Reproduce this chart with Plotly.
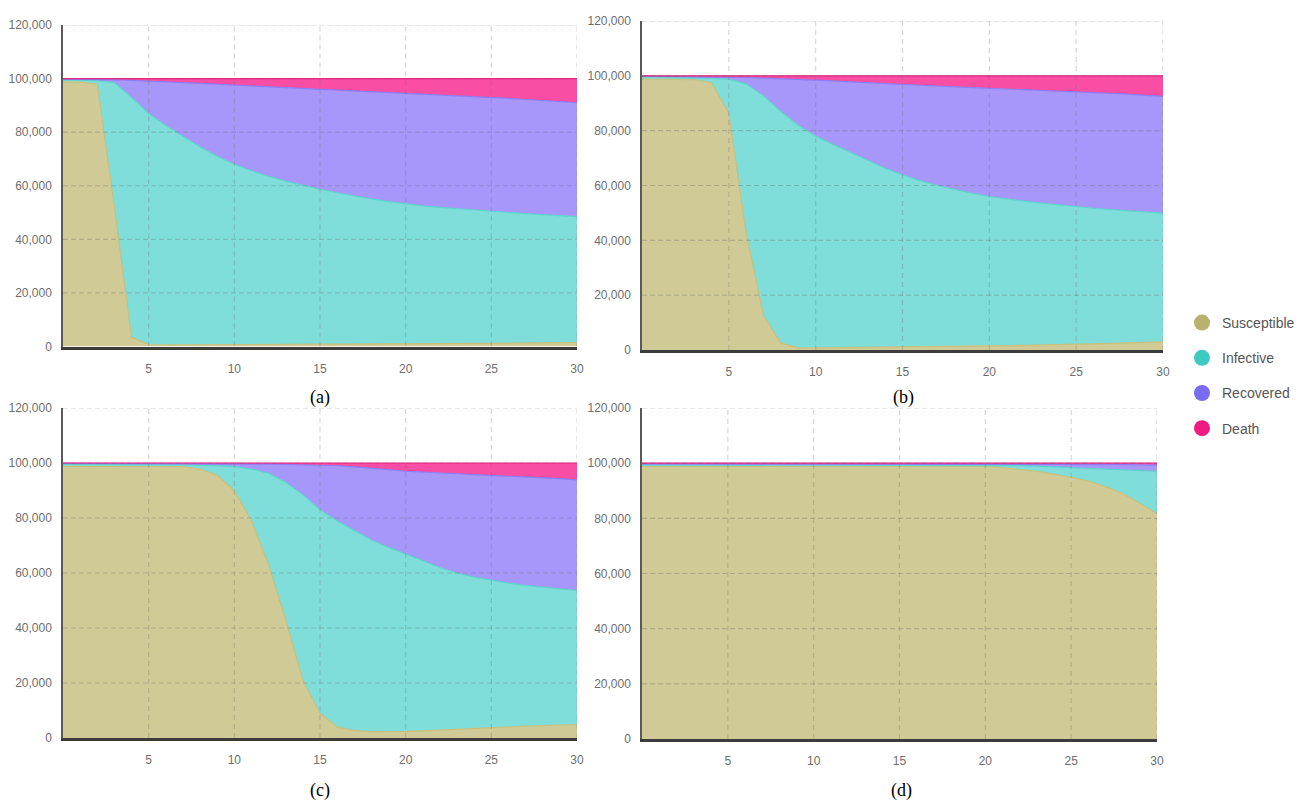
import plotly.graph_objects as go

# ---------------- data ----------------
DAYS = list(range(31))
SERIES = ["Susceptible", "Infective", "Recovered", "Death"]
X_TICKS = [5, 10, 15, 20, 25, 30]
Y_TICKS = [0, 20000, 40000, 60000, 80000, 100000, 120000]
PANEL_LABELS = ["(a)", "(b)", "(c)", "(d)"]

A_SUSCEPTIBLE = [98800, 98700, 98000, 52000, 3500, 700, 600, 600, 600, 650, 700,
                 700, 750, 800, 800, 850, 900, 900, 950, 1000, 1000,
                 1050, 1100, 1100, 1150, 1200, 1250, 1300, 1350, 1400, 1500]
A_INFECTIVE = [700, 700, 1200, 46500, 89500, 86300, 81900, 77900, 73900, 70350, 67300,
               64900, 62750, 60900, 59300, 57850, 56500, 55300, 54150, 53100, 52200,
               51450, 50800, 50300, 49750, 49200, 48750, 48300, 47850, 47400, 47000]
A_RECOVERED = [300, 350, 450, 1000, 6300, 12100, 16300, 20000, 23700, 26900, 29600,
               31700, 33500, 35000, 36300, 37400, 38400, 39300, 40100, 40800, 41400,
               41800, 42100, 42300, 42500, 42600, 42600, 42600, 42600, 42600, 42500]
A_DEATH = [200, 250, 350, 500, 700, 900, 1200, 1500, 1800, 2100, 2400,
           2700, 3000, 3300, 3600, 3900, 4200, 4500, 4800, 5100, 5400,
           5700, 6000, 6300, 6600, 7000, 7400, 7800, 8200, 8600, 9000]

B_SUSCEPTIBLE = [98800, 98800, 98700, 98600, 97500, 86500, 42600, 12500, 2500, 800, 800,
                 850, 900, 950, 1000, 1050, 1100, 1200, 1300, 1400, 1500,
                 1600, 1700, 1800, 1900, 2000, 2200, 2400, 2600, 2800, 3000]
B_INFECTIVE = [800, 700, 700, 700, 1600, 12300, 54400, 80200, 84500, 81200, 77200,
               74150, 71100, 68050, 65300, 62850, 60700, 58800, 57200, 55800, 54500,
               53500, 52600, 51800, 51000, 50300, 49500, 48800, 48100, 47500, 46900]
B_RECOVERED = [300, 350, 400, 450, 600, 800, 2400, 6500, 12000, 16800, 20500,
               23150, 25800, 28450, 30800, 32900, 34750, 36300, 37500, 38550, 39500,
               40150, 40700, 41200, 41650, 42000, 42300, 42450, 42600, 42600, 42600]
B_DEATH = [100, 150, 200, 250, 300, 400, 600, 800, 1000, 1200, 1500,
           1850, 2200, 2550, 2900, 3200, 3450, 3700, 4000, 4250, 4500,
           4750, 5000, 5200, 5450, 5700, 6000, 6350, 6700, 7100, 7500]

C_SUSCEPTIBLE = [98800, 98800, 98800, 98800, 98800, 98800, 98800, 98700, 97800, 95500, 90000,
                 79000, 63000, 43000, 21000, 9000, 4000, 2800, 2300, 2300, 2400,
                 2600, 2900, 3200, 3600, 3900, 4100, 4300, 4500, 4700, 4900]
C_INFECTIVE = [700, 700, 650, 650, 600, 600, 550, 600, 1400, 3500, 8800,
               18800, 33300, 50000, 67500, 74000, 75000, 72700, 69700, 67000, 64600,
               61900, 59100, 56800, 54900, 53400, 52200, 51200, 50300, 49500, 48800]
C_RECOVERED = [350, 350, 400, 400, 450, 450, 500, 500, 600, 750, 900,
               1850, 3300, 6500, 10900, 16300, 20000, 23100, 26200, 28300, 30000,
               32200, 34400, 36200, 37400, 38400, 39100, 39500, 39900, 40100, 40200]
C_DEATH = [150, 150, 150, 150, 150, 150, 150, 200, 200, 250, 300,
           350, 400, 500, 600, 700, 1000, 1400, 1800, 2400, 3000,
           3300, 3600, 3800, 4100, 4300, 4600, 5000, 5300, 5700, 6100]

D_SUSCEPTIBLE = [98800, 98800, 98800, 98800, 98800, 98800, 98800, 98800, 98800, 98800, 98800,
                 98800, 98800, 98800, 98800, 98800, 98800, 98800, 98800, 98800, 98800,
                 98400, 97800, 97000, 96000, 94900, 93500, 91500, 89000, 85500, 81600]
D_INFECTIVE = [500, 500, 500, 500, 500, 500, 500, 500, 500, 500, 500,
               500, 500, 500, 500, 500, 500, 500, 500, 500, 500,
               800, 1300, 1900, 2600, 3400, 4600, 6400, 8600, 11800, 15400]
D_RECOVERED = [400, 400, 400, 400, 400, 400, 400, 400, 400, 400, 400,
               400, 400, 400, 400, 400, 400, 400, 400, 400, 400,
               450, 500, 700, 1000, 1300, 1500, 1650, 1900, 2100, 2300]
D_DEATH = [300, 300, 300, 300, 300, 300, 300, 300, 300, 300, 300,
           300, 300, 300, 300, 300, 300, 300, 300, 300, 300,
           350, 400, 400, 400, 400, 400, 450, 500, 600, 700]

PANEL_DATA = [
    [A_SUSCEPTIBLE, A_INFECTIVE, A_RECOVERED, A_DEATH],
    [B_SUSCEPTIBLE, B_INFECTIVE, B_RECOVERED, B_DEATH],
    [C_SUSCEPTIBLE, C_INFECTIVE, C_RECOVERED, C_DEATH],
    [D_SUSCEPTIBLE, D_INFECTIVE, D_RECOVERED, D_DEATH],
]

# ---------------- styling ----------------
FILL_COLORS = ["rgb(208,202,150)", "rgb(127,222,217)", "rgb(168,151,250)", "rgb(250,78,165)"]
LINE_COLORS = ["rgb(200,192,125)", "rgb(95,210,204)", "rgb(140,125,245)", "rgb(240,30,130)"]
LEGEND_COLORS = ["rgb(184,178,108)", "rgb(63,201,195)", "rgb(122,108,242)", "rgb(240,26,130)"]

W, H = 1301, 800
# pixel boxes of the four plot areas: (left, right, top(120k), bottom(0))
BOXES = [(63, 577, 25, 346.5), (642, 1163, 21, 350),
         (63, 577, 408, 738), (642, 1157, 408, 739)]
LABEL_POS = [(320, 397), (903, 397), (320, 790), (901, 790)]

SANS = "Liberation Sans, Arial, sans-serif"
TICK_FONT = dict(family=SANS, size=12, color="#6e6e6e")

fig = go.Figure()
layout = dict(width=W, height=H, autosize=False,
              margin=dict(l=0, r=0, t=0, b=0, pad=0, autoexpand=False),
              paper_bgcolor="white", plot_bgcolor="white",
              showlegend=True)
shapes = []
annotations = []

for k, (vals, box) in enumerate(zip(PANEL_DATA, BOXES)):
    n = k + 1
    xa = "x" if n == 1 else f"x{n}"
    ya = "y" if n == 1 else f"y{n}"
    for s, name in enumerate(SERIES):
        fig.add_trace(go.Scatter(
            x=DAYS, y=vals[s], name=name, xaxis=xa, yaxis=ya,
            stackgroup=f"p{n}", mode="lines",
            line=dict(color=LINE_COLORS[s], width=1.2),
            fillcolor=FILL_COLORS[s], showlegend=False,
            hovertemplate=name + ": %{y:,}<extra></extra>"))
    l, r, t, b = box
    layout["xaxis" if n == 1 else f"xaxis{n}"] = dict(
        domain=[l / W, r / W], anchor=ya, range=[0, 30],
        tickvals=X_TICKS, ticks="outside", ticklen=9, tickcolor="rgba(0,0,0,0)",
        showgrid=False, zeroline=False,
        showline=True, linecolor="#3c3c3c", linewidth=2.5,
        tickfont=TICK_FONT, fixedrange=True)
    layout["yaxis" if n == 1 else f"yaxis{n}"] = dict(
        domain=[1 - b / H, 1 - t / H], anchor=xa, range=[0, 120000],
        tickvals=Y_TICKS, tickformat=",d", ticks="outside", ticklen=7,
        tickcolor="rgba(0,0,0,0)", showgrid=False,
        zeroline=False, showline=True, linecolor="#5a5a5a", linewidth=1.5,
        tickfont=TICK_FONT, fixedrange=True)
    # dashed grid drawn above the filled areas
    for yv in Y_TICKS[1:]:
        shapes.append(dict(type="line", xref=xa, yref=ya, x0=0, x1=30, y0=yv, y1=yv,
                           layer="above", line=dict(color="rgba(110,110,110,0.33)", width=1.2, dash="5px,3px")))
    for xv in X_TICKS:
        shapes.append(dict(type="line", xref=xa, yref=ya, x0=xv, x1=xv, y0=0, y1=120000,
                           layer="above", line=dict(color="rgba(110,110,110,0.28)", width=1.2, dash="5px,4px")))
    lx, ly = LABEL_POS[k]
    annotations.append(dict(text=PANEL_LABELS[k], xref="paper", yref="paper",
                            x=lx / W, y=1 - ly / H, showarrow=False,
                            xanchor="center", yanchor="middle",
                            font=dict(family="Liberation Serif, Times New Roman, serif", size=18, color="black")))

# legend entries (circle markers, as in the reference)
for s, name in enumerate(SERIES):
    fig.add_trace(go.Scatter(
        x=[None], y=[None], name=name, mode="markers",
        marker=dict(color=LEGEND_COLORS[s], size=16, symbol="circle"),
        legendgroup=name, showlegend=True, xaxis="x", yaxis="y"))

layout["legend"] = dict(x=1182 / W, y=1 - 307 / H, xanchor="left", yanchor="top",
                        bgcolor="rgba(0,0,0,0)", borderwidth=0, tracegroupgap=14,
                        font=dict(family=SANS, size=14, color="#555555"))
layout["shapes"] = shapes
layout["annotations"] = annotations
fig.update_layout(**layout)

fig.write_html("out.html", config={"displayModeBar": False},
               post_script="document.body.style.margin='0px';document.body.style.overflow='hidden';")
